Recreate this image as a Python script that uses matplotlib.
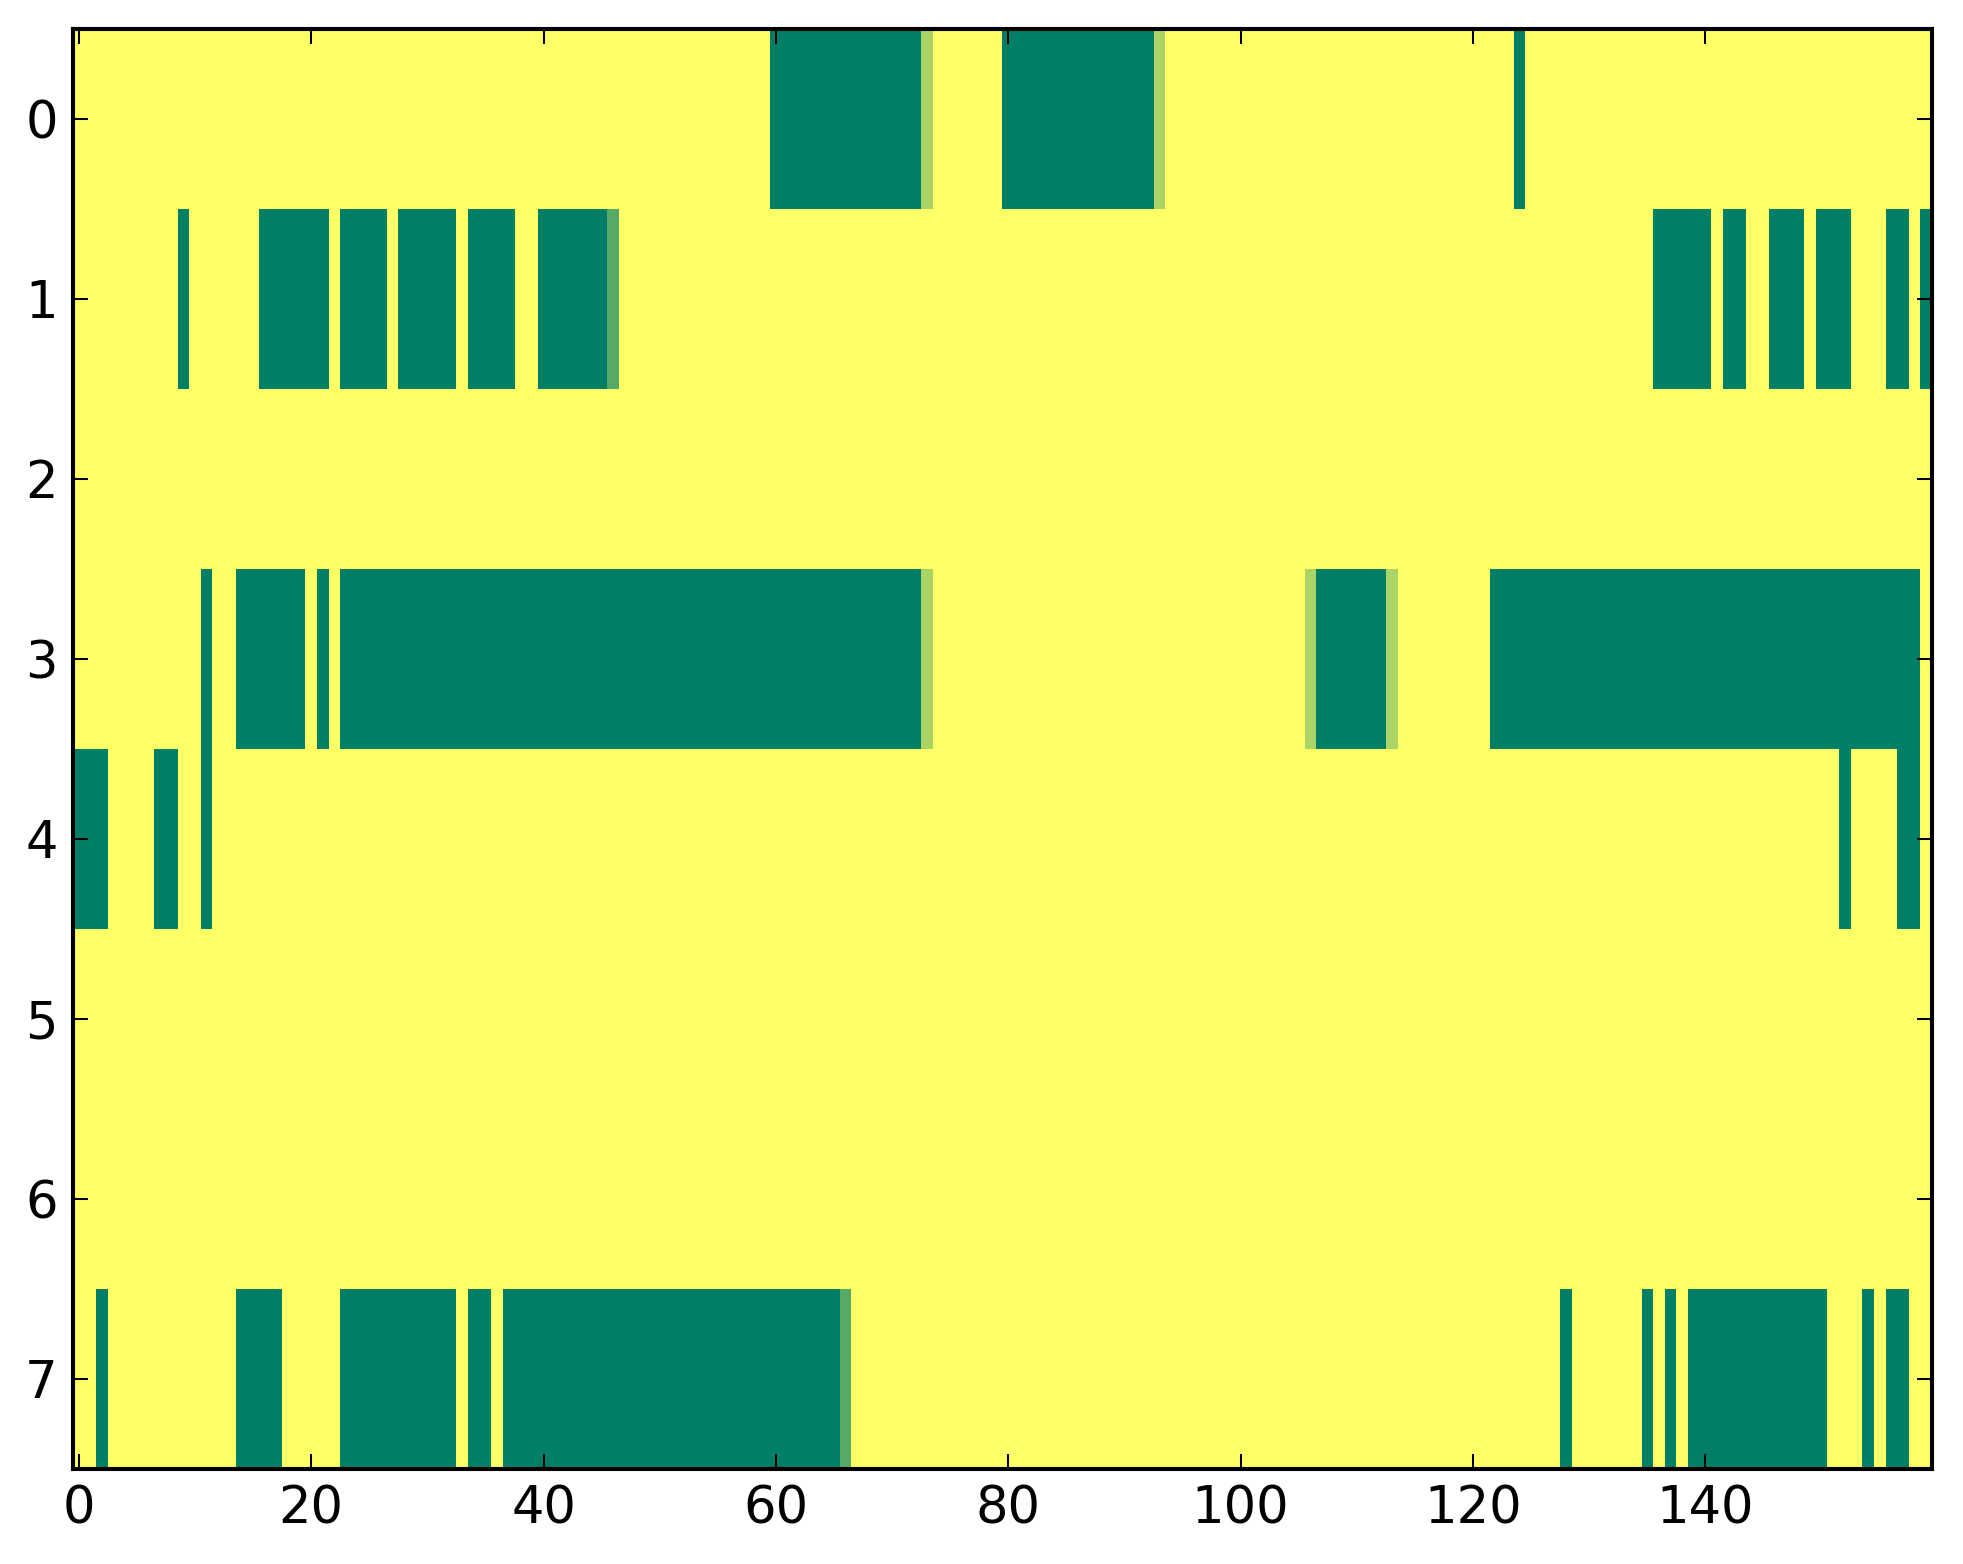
import numpy as np
import matplotlib
matplotlib.use('Agg')
import matplotlib.pyplot as plt

# grid size
n_rows = 8
n_cols = 160

# runs of non-background cells per row: (first col, last col, value)
# background value is 1.0 (yellow end of 'summer')
row0_runs = [(60, 72, 0.0), (73, 73, 2 / 3), (80, 92, 0.0), (93, 93, 2 / 3),
             (124, 124, 0.0)]
row1_runs = [(9, 9, 0.0), (16, 21, 0.0), (23, 26, 0.0), (28, 32, 0.0),
             (34, 37, 0.0), (40, 45, 0.0), (46, 46, 1 / 3),
             (136, 140, 0.0), (142, 143, 0.0), (146, 148, 0.0),
             (150, 152, 0.0), (156, 157, 0.0), (159, 159, 0.0)]
row2_runs = []
row3_runs = [(11, 11, 0.0), (14, 19, 0.0), (21, 21, 0.0), (23, 72, 0.0),
             (73, 73, 2 / 3), (106, 106, 2 / 3), (107, 112, 0.0),
             (113, 113, 2 / 3), (122, 158, 0.0)]
row4_runs = [(0, 2, 0.0), (7, 8, 0.0), (11, 11, 0.0), (152, 152, 0.0),
             (157, 158, 0.0)]
row5_runs = []
row6_runs = []
row7_runs = [(2, 2, 0.0), (14, 17, 0.0), (23, 32, 0.0), (34, 35, 0.0),
             (37, 65, 0.0), (66, 66, 1 / 3), (128, 128, 0.0), (135, 135, 0.0),
             (137, 137, 0.0), (139, 150, 0.0), (154, 154, 0.0),
             (156, 157, 0.0)]

all_runs = [row0_runs, row1_runs, row2_runs, row3_runs,
            row4_runs, row5_runs, row6_runs, row7_runs]

grid = np.ones((n_rows, n_cols))
for r, runs in enumerate(all_runs):
    for c0, c1, v in runs:
        grid[r, c0:c1 + 1] = v

dpi = 1963 / 8.0
fig = plt.figure(figsize=(8, 1564 / dpi), dpi=dpi, facecolor='white')
ax = fig.add_axes([73 / 1963, 95 / 1564, 1859 / 1963, 1440 / 1564])

ax.imshow(grid, cmap='summer', vmin=0, vmax=1, aspect='auto',
          interpolation='nearest')

ax.set_xticks(np.arange(0, 141, 20))
ax.set_yticks(np.arange(0, 8))
ax.tick_params(direction='in', top=True, right=True, length=4.4,
               width=0.6, labelsize=15, pad=4.5)
for sp in ax.spines.values():
    sp.set_linewidth(1.2)

fig.savefig('out.png', dpi=dpi)
